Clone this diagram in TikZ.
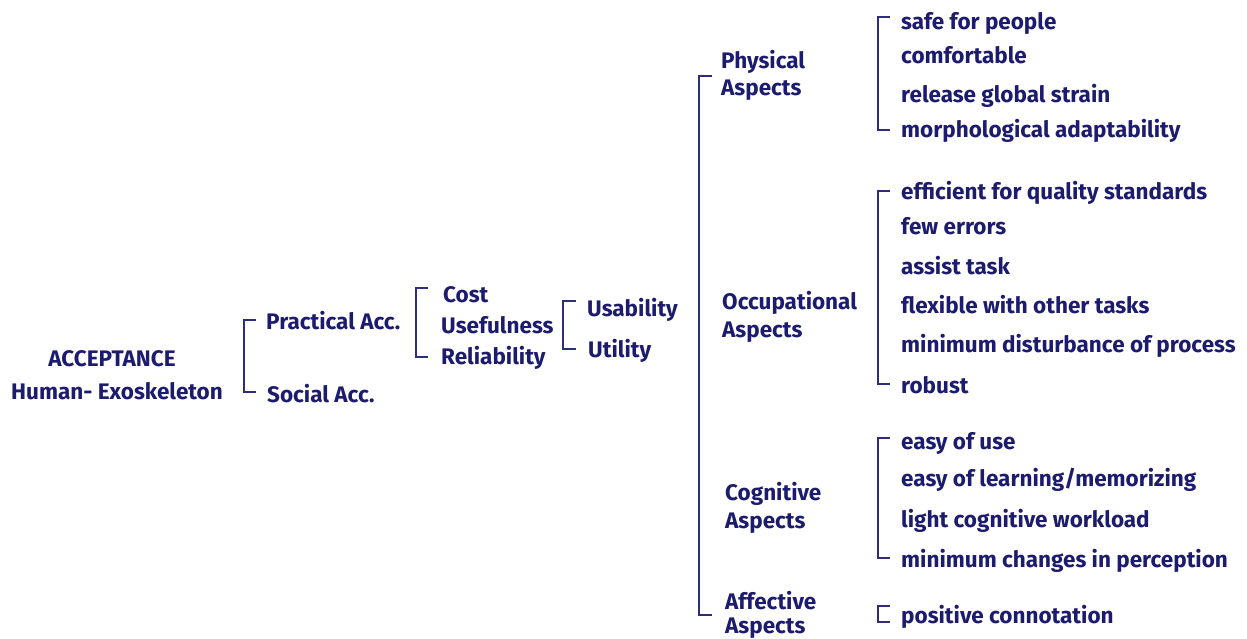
\documentclass[tikz,border=0pt]{standalone}
\usepackage{fontspec}
\setmainfont{Fira Sans}
\definecolor{ink}{RGB}{28,27,110}
\definecolor{brk}{RGB}{45,45,125}
\begin{document}
\begin{tikzpicture}[x=1pt,y=-1pt,
  lbl/.style={anchor=west,inner sep=0pt,text=ink,font=\bfseries\fontsize{22.5}{26}\selectfont,text height=18pt,text depth=0pt},
  brak/.style={draw=brk,line width=1.1pt}]
\useasboundingbox (0,0) rectangle (1247,639);
% root
\node[lbl,anchor=center] (acc) at (112,357) {ACCEPTANCE};
\node[lbl,anchor=center] (hum) at (117,390) {Human- Exoskeleton};
% level 1
\node[lbl] (pra) at (266,320) {Practical Acc.};
\node[lbl] (soc) at (267,393) {Social Acc.};
\draw[brak] (256,320) -- (244,320) -- (244,392) -- (256,392);
% level 2
\node[lbl] (cost) at (443,293) {Cost};
\node[lbl] (use) at (441,324) {Usefulness};
\node[lbl] (rel) at (441,355) {Reliability};
\draw[brak] (428,288) -- (416,288) -- (416,357) -- (428,357);
% level 3
\node[lbl] (usa) at (587,307) {Usability};
\node[lbl] (uti) at (588,348) {Utility};
\draw[brak] (576,301) -- (563,301) -- (563,349) -- (576,349);
% aspects
\node[lbl] (phy1) at (721,60) {Physical};
\node[lbl] (phy2) at (721,87) {Aspects};
\node[lbl] (occ1) at (722,300) {Occupational};
\node[lbl] (occ2) at (722,328) {Aspects};
\node[lbl] (cog1) at (725,491) {Cognitive};
\node[lbl] (cog2) at (725,519) {Aspects};
\node[lbl] (aff1) at (725,600) {Affective};
\node[lbl] (aff2) at (725,624) {Aspects};
\draw[brak] (712,76) -- (699,76) -- (699,615) -- (712,615);
% physical items
\node[lbl] (p1) at (901,21) {safe for people};
\node[lbl] (p2) at (901,55) {comfortable};
\node[lbl] (p3) at (901,94) {release global strain};
\node[lbl] (p4) at (901,129) {morphological adaptability};
\draw[brak] (890,17) -- (878,17) -- (878,130) -- (890,130);
% occupational items
\node[lbl] (o1) at (901,191) {efficient for quality standards};
\node[lbl] (o2) at (901,225) {few errors};
\node[lbl] (o3) at (901,265) {assist task};
\node[lbl] (o4) at (901,304) {flexible with other tasks};
\node[lbl] (o5) at (901,343) {minimum disturbance of process};
\node[lbl] (o6) at (901,384) {robust};
\draw[brak] (890,191) -- (878,191) -- (878,384) -- (890,384);
% cognitive items
\node[lbl] (c1) at (901,440) {easy of use};
\node[lbl] (c2) at (901,477) {easy of learning/memorizing};
\node[lbl] (c3) at (901,518) {light cognitive workload};
\node[lbl] (c4) at (901,558) {minimum changes in perception};
\draw[brak] (890,438) -- (878,438) -- (878,558) -- (890,558);
% affective items
\node[lbl] (a1) at (901,614) {positive connotation};
\draw[brak] (890,606) -- (878,606) -- (878,622) -- (890,622);
\end{tikzpicture}
\end{document}
